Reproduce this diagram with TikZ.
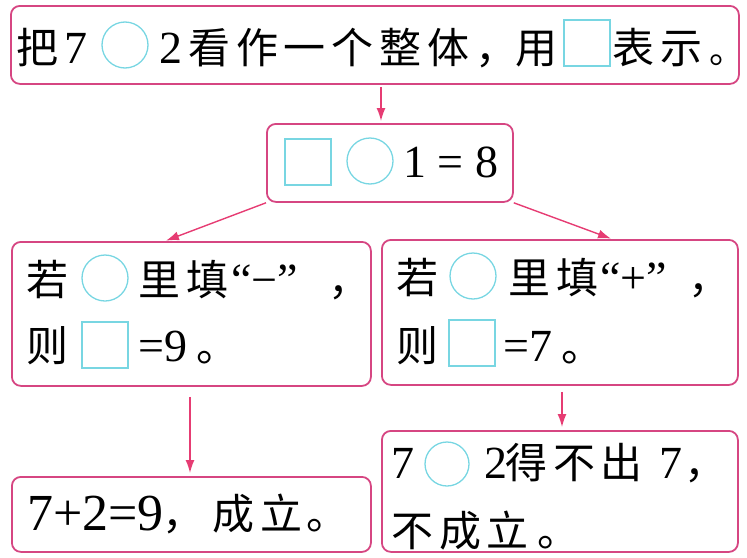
\documentclass[tikz,border=0pt]{standalone}
\usepackage{fontspec}
\setmainfont{Liberation Serif}
\newfontfamily\cjkfam{Noto Sans CJK SC}[LetterSpace=14]
\newfontfamily\cjkplain{Noto Sans CJK SC}
\usetikzlibrary{arrows.meta}
\definecolor{boxc}{RGB}{214,70,130}
\definecolor{arrc}{RGB}{230,60,115}
\definecolor{cyanc}{RGB}{120,214,226}
\newcommand\cjkf{\cjkfam\fontsize{42}{48}\selectfont}
\newcommand\numf{\fontsize{46}{50}\selectfont}
\tikzset{
  box/.style={draw=boxc, line width=1.8pt, rounded corners=9pt, inner sep=0pt, anchor=north west},
  arr/.style={draw=arrc, line width=1.4pt, -{Latex[length=13pt,width=9pt]}},
  ph/.style={draw=cyanc, line width=1.3pt, inner sep=0pt, minimum size=46pt},
  cj/.style={font=\cjkf, anchor=base west, inner sep=0pt},
  nm/.style={font=\numf, anchor=base west, inner sep=0pt},
}
\begin{document}
\begin{tikzpicture}[x=1pt,y=-1pt]
\useasboundingbox (0,0) rectangle (747,557);
% boxes
\node[box, minimum width=728pt, minimum height=78pt] (top) at (10,5) {};
\node[box, minimum width=246pt, minimum height=78pt] (mid) at (266,123) {};
\node[box, minimum width=359pt, minimum height=144pt] (left) at (11,241) {};
\node[box, minimum width=356pt, minimum height=145pt] (right) at (381,239) {};
\node[box, minimum width=359pt, minimum height=75pt] (bl) at (11,476) {};
\node[box, minimum width=356pt, minimum height=121pt] (br) at (381,430) {};
% top line
\node[cj] (t1) at (16,63) {把};
\node[nm] (t2) at (64,63) {7};
\node[ph, circle] (tc) at (125,45) {};
\node[nm] (t3) at (159,63) {2};
\node[cj] (t4) at (188,63) {看作一个整体，};
\node[cj] (t5) at (515,63) {用};
\node[ph, rectangle] (ts) at (587,43) {};
\node[cj] (t6) at (612,63) {表示};
\node[cj, font=\cjkplain\fontsize{36}{40}\selectfont] (t7) at (709,63) {。};
% middle
\node[ph, rectangle] (ms) at (308,162) {};
\node[ph, circle] (mc) at (370,161) {};
\node[nm] (m1) at (403,177) {1 = 8};
% left box
\node[cj] (l1) at (26,295) {若};
\node[ph, circle] (lc) at (105,278) {};
\node[cj] (l2) at (138,295) {里填};
\node[nm] (l3) at (231,295) {“−”};
\node[cj] (l4) at (328,295) {，};
\node[cj] (l5) at (26,361) {则};
\node[ph, rectangle] (ls) at (105,345) {};
\node[nm] (l6) at (138,361) {=9};
\node[cj] (l7) at (196,361) {。};
% right box
\node[cj] (r1) at (396,293) {若};
\node[ph, circle] (rc) at (473,276) {};
\node[cj] (r2) at (508,293) {里填};
\node[nm] (r3) at (600,293) {“+”};
\node[cj] (r4) at (688,293) {，};
\node[cj] (r5) at (396,361) {则};
\node[ph, rectangle] (rs) at (472,343) {};
\node[nm] (r6) at (503,361) {=7};
\node[cj] (r7) at (561,361) {。};
% bottom left
\node[nm, font=\fontsize{52}{56}\selectfont] (b1) at (27,530) {7+2=9};
\node[cj] (b2) at (162,529) {，};
\node[cj] (b3) at (212,529) {成立};
\node[cj] (b4) at (306,529) {。};
% bottom right
\node[nm] (c1) at (391,478) {7};
\node[ph, circle, minimum size=44pt] (cc) at (447,464) {};
\node[nm] (c2) at (484,478) {2};
\node[cj] (c3) at (505,478) {得不出};
\node[nm] (c4) at (659,478) {7};
\node[cj] (c5) at (684,478) {，};
\node[cj] (c6) at (391,546) {不成立};
\node[cj] (c7) at (537,546) {。};
% arrows
\coordinate (xa) at (381,0);
\coordinate (xb) at (165,0);
\coordinate (xc) at (612,0);
\coordinate (xd) at (190,0);
\coordinate (xe) at (562,0);
\draw[arr, shorten <=2pt, shorten >=2pt] (top.south -| xa) -- (mid.north -| xa);
\draw[arr, shorten >=1pt] (mid.south west) -- (left.north -| xb);
\draw[arr, shorten >=1pt] (mid.south east) -- (right.north -| xc);
\draw[arr, shorten <=10pt, shorten >=3pt] (left.south -| xd) -- (bl.north -| xd);
\draw[arr, shorten <=6pt, shorten >=3pt] (right.south -| xe) -- (br.north -| xe);
\end{tikzpicture}
\end{document}
